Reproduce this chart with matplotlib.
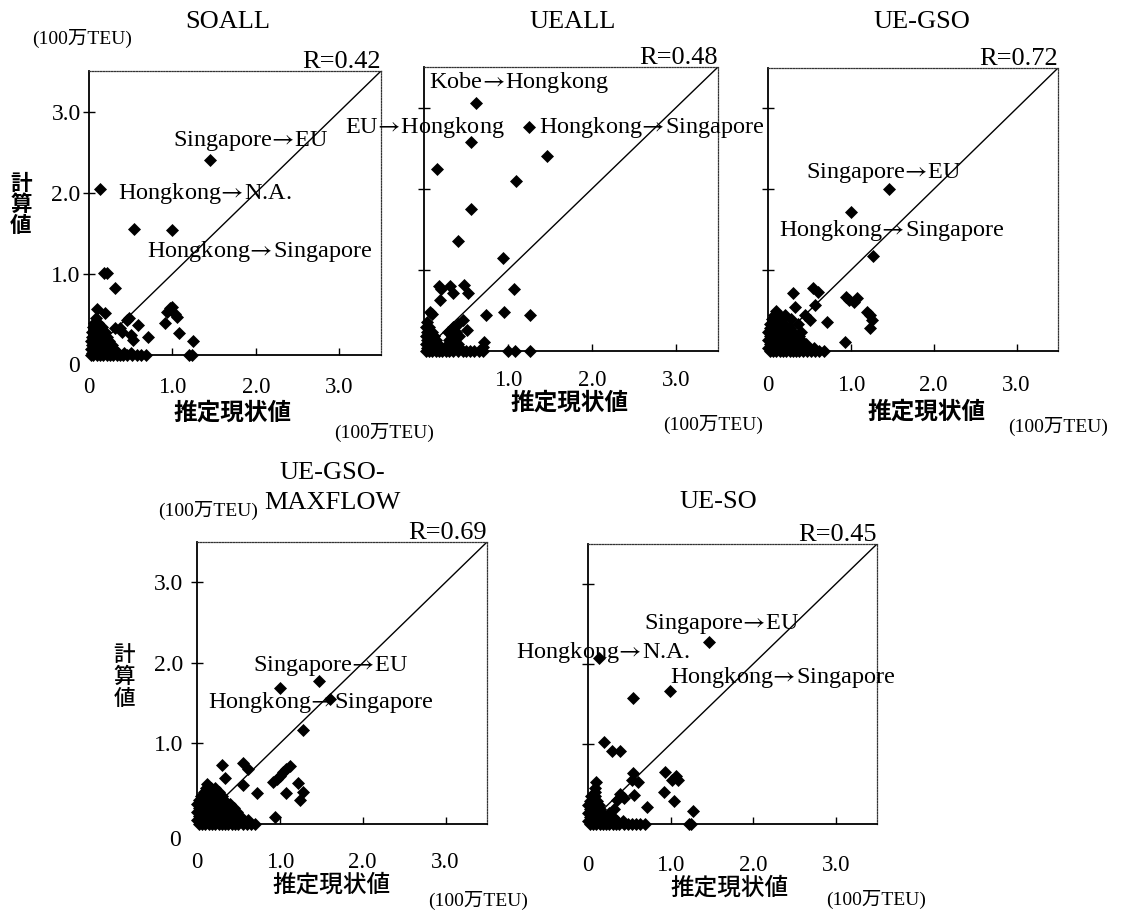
import matplotlib
matplotlib.use("Agg")
import matplotlib.pyplot as plt

plt.rcParams['font.family'] = ['Liberation Serif', 'Noto Sans CJK JP', 'DejaVu Sans']
plt.rcParams['mathtext.fontset'] = 'stix'

W, H = 1121, 911

# ---------------- data ----------------
titles = ["SOALL", "UEALL", "UE-GSO", "UE-GSO-\nMAXFLOW", "UE-SO"]
r_labels = ["R=0.42", "R=0.48", "R=0.72", "R=0.69", "R=0.45"]
tick_vals = [0, 1, 2, 3]
tick_text = ["0", "1.0", "2.0", "3.0"]
unit_label = "(100万TEU)"
x_label = "推定現状値"
y_label = "計\n算\n値"
ARROW = "$\\!{\\rightarrow}\\!$"

soall_x = [1.45, 0.13, 0.54, 0.99, 0.18, 0.22, 0.31, 0.09, 0.19, 0.48, 0.45, 0.59, 0.71, 0.91,
           0.93, 0.97, 0.99, 1.05, 1.03, 1.08, 1.25, 1.20, 1.24, 0.31, 0.37, 0.53, 0.50, 0.40,
           0.02, 0.05, 0.09, 0.13, 0.17, 0.21, 0.25, 0.29, 0.33, 0.37, 0.41, 0.46, 0.52, 0.57, 0.62, 0.68,
           0.04, 0.10, 0.16, 0.22, 0.28, 0.35, 0.42, 0.50,
           0.02, 0.07, 0.12, 0.18, 0.24, 0.30,
           0.04, 0.09, 0.14, 0.20, 0.27,
           0.02, 0.07, 0.12, 0.18, 0.24,
           0.04, 0.09, 0.15, 0.21,
           0.03, 0.08, 0.13, 0.19,
           0.05, 0.10, 0.15,
           0.06, 0.11,
           0.08]
soall_y = [2.40, 2.05, 1.55, 1.54, 1.01, 1.01, 0.82, 0.57, 0.52, 0.45, 0.43, 0.37, 0.22, 0.40,
           0.53, 0.58, 0.59, 0.47, 0.50, 0.27, 0.17, 0.00, 0.00, 0.33, 0.33, 0.18, 0.25, 0.28,
           0.00, 0.00, 0.00, 0.00, 0.00, 0.00, 0.00, 0.00, 0.00, 0.00, 0.00, 0.00, 0.00, 0.00, 0.00, 0.00,
           0.03, 0.03, 0.03, 0.03, 0.03, 0.03, 0.03, 0.03,
           0.07, 0.07, 0.07, 0.07, 0.07, 0.07,
           0.12, 0.12, 0.12, 0.12, 0.12,
           0.17, 0.17, 0.17, 0.17, 0.17,
           0.22, 0.22, 0.22, 0.22,
           0.28, 0.28, 0.28, 0.28,
           0.34, 0.34, 0.34,
           0.40, 0.40,
           0.46]

ueall_x = [0.62, 1.25, 0.56, 1.47, 0.15, 1.10, 0.56, 0.40, 0.94, 1.07, 0.18, 0.31, 0.48, 0.20,
           0.35, 0.52, 0.19, 0.74, 0.95, 1.26, 0.07, 0.10, 0.51, 0.47, 0.41, 0.34, 0.72, 0.70,
           1.00, 1.08, 1.26,
           0.02, 0.06, 0.10, 0.14, 0.18, 0.22, 0.26, 0.30, 0.35, 0.40, 0.46, 0.50, 0.55, 0.60, 0.65, 0.70,
           0.03, 0.08, 0.13, 0.19, 0.25, 0.31, 0.38,
           0.02, 0.07, 0.12, 0.17, 0.28, 0.34, 0.40,
           0.04, 0.09, 0.14, 0.30, 0.36,
           0.02, 0.07, 0.12, 0.33, 0.42,
           0.04, 0.09, 0.28, 0.38,
           0.02, 0.06,
           0.03]
ueall_y = [3.06, 2.76, 2.57, 2.40, 2.24, 2.09, 1.75, 1.36, 1.14, 0.77, 0.80, 0.80, 0.81, 0.76,
           0.72, 0.72, 0.63, 0.44, 0.48, 0.44, 0.48, 0.46, 0.26, 0.38, 0.33, 0.30, 0.11, 0.05,
           0.00, 0.00, 0.00,
           0.00, 0.00, 0.00, 0.00, 0.00, 0.00, 0.00, 0.00, 0.00, 0.00, 0.00, 0.00, 0.00, 0.00, 0.00, 0.00,
           0.04, 0.04, 0.04, 0.04, 0.04, 0.04, 0.04,
           0.09, 0.09, 0.09, 0.09, 0.09, 0.09, 0.09,
           0.14, 0.14, 0.14, 0.14, 0.14,
           0.19, 0.19, 0.19, 0.19, 0.19,
           0.24, 0.24, 0.24, 0.24,
           0.30, 0.30,
           0.36]

uegso_x = [1.46, 1.00, 1.27, 0.54, 0.60, 0.30, 0.57, 0.94, 0.98, 1.04, 1.07, 1.20, 1.23, 1.25,
           1.23, 0.71, 0.93, 0.51, 0.33, 0.45,
           0.02, 0.06, 0.10, 0.14, 0.18, 0.22, 0.26, 0.30, 0.34, 0.38, 0.42, 0.47, 0.52, 0.57, 0.62, 0.68,
           0.00, 0.04, 0.08, 0.12, 0.16, 0.20, 0.24, 0.28, 0.32, 0.37, 0.43, 0.50, 0.56,
           0.02, 0.06, 0.10, 0.14, 0.18, 0.22, 0.26, 0.30, 0.35, 0.40, 0.46,
           0.00, 0.04, 0.08, 0.12, 0.16, 0.20, 0.24, 0.29, 0.34, 0.40,
           0.02, 0.06, 0.10, 0.14, 0.18, 0.23, 0.28, 0.37,
           0.00, 0.04, 0.08, 0.12, 0.17, 0.22, 0.30, 0.40,
           0.02, 0.06, 0.10, 0.15, 0.21, 0.27,
           0.03, 0.08, 0.13, 0.19, 0.36,
           0.05, 0.10, 0.16, 0.28,
           0.07, 0.13, 0.21,
           0.10]
uegso_y = [2.00, 1.72, 1.17, 0.78, 0.73, 0.72, 0.57, 0.67, 0.63, 0.61, 0.65, 0.48, 0.44, 0.38,
           0.28, 0.36, 0.11, 0.38, 0.54, 0.45,
           0.00, 0.00, 0.00, 0.00, 0.00, 0.00, 0.00, 0.00, 0.00, 0.00, 0.00, 0.00, 0.00, 0.00, 0.00, 0.00,
           0.04, 0.04, 0.04, 0.04, 0.04, 0.04, 0.04, 0.04, 0.04, 0.04, 0.04, 0.04, 0.04,
           0.09, 0.09, 0.09, 0.09, 0.09, 0.09, 0.09, 0.09, 0.09, 0.09, 0.09,
           0.14, 0.14, 0.14, 0.14, 0.14, 0.14, 0.14, 0.14, 0.14, 0.14,
           0.19, 0.19, 0.19, 0.19, 0.19, 0.19, 0.19, 0.19,
           0.24, 0.24, 0.24, 0.24, 0.24, 0.24, 0.24, 0.24,
           0.29, 0.29, 0.29, 0.29, 0.29, 0.29,
           0.34, 0.34, 0.34, 0.34, 0.34,
           0.39, 0.39, 0.39, 0.39,
           0.44, 0.44, 0.44,
           0.49]

maxflow_x = [1.47, 1.00, 1.60, 1.28, 0.30, 0.55, 0.61, 0.55, 0.72, 0.92, 0.96, 1.00, 1.04, 1.08,
             1.12, 1.08, 1.22, 1.28, 1.24, 0.94, 0.12, 0.34,
             0.02, 0.06, 0.10, 0.14, 0.18, 0.22, 0.26, 0.30, 0.34, 0.38, 0.42, 0.46, 0.50, 0.55, 0.60, 0.65, 0.70,
             0.00, 0.04, 0.08, 0.12, 0.16, 0.20, 0.24, 0.28, 0.32, 0.36, 0.40, 0.45, 0.50, 0.56, 0.62,
             0.02, 0.06, 0.10, 0.14, 0.18, 0.22, 0.26, 0.30, 0.35, 0.40, 0.46, 0.52,
             0.00, 0.04, 0.08, 0.12, 0.16, 0.20, 0.24, 0.28, 0.33, 0.38, 0.48,
             0.02, 0.06, 0.10, 0.14, 0.18, 0.23, 0.28, 0.36, 0.45,
             0.00, 0.04, 0.08, 0.12, 0.16, 0.21, 0.30, 0.40,
             0.03, 0.07, 0.11, 0.15, 0.20, 0.26, 0.33,
             0.05, 0.09, 0.14, 0.19, 0.24, 0.30,
             0.08, 0.13, 0.18, 0.26,
             0.11, 0.17, 0.22]
maxflow_y = [1.77, 1.69, 1.55, 1.17, 0.73, 0.76, 0.68, 0.49, 0.38, 0.52, 0.56, 0.60, 0.64, 0.68,
             0.72, 0.38, 0.51, 0.40, 0.30, 0.09, 0.50, 0.57,
             0.00, 0.00, 0.00, 0.00, 0.00, 0.00, 0.00, 0.00, 0.00, 0.00, 0.00, 0.00, 0.00, 0.00, 0.00, 0.00, 0.00,
             0.05, 0.05, 0.05, 0.05, 0.05, 0.05, 0.05, 0.05, 0.05, 0.05, 0.05, 0.05, 0.05, 0.05, 0.05,
             0.10, 0.10, 0.10, 0.10, 0.10, 0.10, 0.10, 0.10, 0.10, 0.10, 0.10, 0.10,
             0.15, 0.15, 0.15, 0.15, 0.15, 0.15, 0.15, 0.15, 0.15, 0.15, 0.15,
             0.20, 0.20, 0.20, 0.20, 0.20, 0.20, 0.20, 0.20, 0.20,
             0.25, 0.25, 0.25, 0.25, 0.25, 0.25, 0.25, 0.25,
             0.30, 0.30, 0.30, 0.30, 0.30, 0.30, 0.30,
             0.35, 0.35, 0.35, 0.35, 0.35, 0.35,
             0.40, 0.40, 0.40, 0.40,
             0.45, 0.45, 0.45]

ueso_x = [1.47, 0.13, 0.99, 0.55, 0.19, 0.29, 0.39, 0.55, 0.53, 0.61, 0.93, 1.02, 1.09, 1.06,
          0.92, 1.04, 0.71, 1.27, 1.22, 1.25, 0.56, 0.39, 0.43, 0.35, 0.10, 0.09,
          0.02, 0.06, 0.10, 0.14, 0.18, 0.22, 0.26, 0.30, 0.34, 0.38, 0.43, 0.48, 0.53, 0.58, 0.63, 0.69,
          0.00, 0.04, 0.08, 0.12, 0.16, 0.20, 0.24, 0.29, 0.35, 0.42,
          0.02, 0.06, 0.10, 0.14, 0.18, 0.23, 0.30,
          0.00, 0.04, 0.08, 0.12, 0.17, 0.26,
          0.02, 0.06, 0.10, 0.15, 0.31,
          0.00, 0.04, 0.08, 0.13,
          0.02, 0.07, 0.11,
          0.04, 0.09,
          0.08]
ueso_y = [2.28, 2.07, 1.66, 1.57, 1.02, 0.91, 0.91, 0.64, 0.55, 0.52, 0.65, 0.55, 0.55, 0.60,
          0.40, 0.29, 0.21, 0.16, 0.00, 0.00, 0.36, 0.37, 0.33, 0.30, 0.52, 0.45,
          0.00, 0.00, 0.00, 0.00, 0.00, 0.00, 0.00, 0.00, 0.00, 0.00, 0.00, 0.00, 0.00, 0.00, 0.00, 0.00,
          0.04, 0.04, 0.04, 0.04, 0.04, 0.04, 0.04, 0.04, 0.04, 0.04,
          0.09, 0.09, 0.09, 0.09, 0.09, 0.09, 0.09,
          0.14, 0.14, 0.14, 0.14, 0.14, 0.14,
          0.19, 0.19, 0.19, 0.19, 0.19,
          0.24, 0.24, 0.24, 0.24,
          0.29, 0.29, 0.29,
          0.35, 0.35,
          0.40]

# annotations: (text, x, y) in data units
soall_notes = [("Singapore" + ARROW + "EU", 1.94, 2.64), ("Hongkong" + ARROW + "N.A.", 1.39, 1.99),
               ("Hongkong" + ARROW + "Singapore", 2.05, 1.27)]
ueall_notes = [("Kobe" + ARROW + "Hongkong", 1.13, 3.31), ("EU" + ARROW + "Hongkong", 0.01, 2.76),
               ("Hongkong" + ARROW + "Singapore", 2.71, 2.76)]
uegso_notes = [("Singapore" + ARROW + "EU", 1.40, 2.20), ("Hongkong" + ARROW + "Singapore", 1.50, 1.49)]
maxflow_notes = [("Singapore" + ARROW + "EU", 1.61, 1.96), ("Hongkong" + ARROW + "Singapore", 1.50, 1.51)]
ueso_notes = [("Singapore" + ARROW + "EU", 1.62, 2.50), ("Hongkong" + ARROW + "N.A.", 0.18, 2.14),
              ("Hongkong" + ARROW + "Singapore", 2.36, 1.83)]

# ---------------- layout (pixels) ----------------
panels = [
    dict(x=soall_x, y=soall_y, notes=soall_notes, box=(89, 71, 381, 355),
         title_xy=(228, 22), xlab_xy=(233, 413), unit_xy=(384, 432), xpad=15.8,
         ylabels=True, x0=True, ypad=2, ytop_unit=(82, 38), ylab_xy=(21, 204), zero_xy=(74, 366),
         jp_weight="bold"),
    dict(x=ueall_x, y=ueall_y, notes=ueall_notes, box=(424, 67, 718, 351),
         title_xy=(573, 22), xlab_xy=(570, 403), unit_xy=(713, 424), xpad=13.7,
         ylabels=False, x0=False, jp_weight="bold"),
    dict(x=uegso_x, y=uegso_y, notes=uegso_notes, box=(768, 68, 1058, 351),
         title_xy=(922, 22), xlab_xy=(927, 412), unit_xy=(1058, 426), xpad=17.3,
         ylabels=False, x0=True, jp_weight="bold"),
    dict(x=maxflow_x, y=maxflow_y, notes=maxflow_notes, box=(197, 542, 487, 824),
         title_xy=(332, 488), xlab_xy=(332, 885), unit_xy=(478, 900), xpad=20,
         ylabels=True, x0=True, ypad=6, ytop_unit=(208, 510), ylab_xy=(124, 677),
         zero_xy=(175, 841), jp_weight="medium"),
    dict(x=ueso_x, y=ueso_y, notes=ueso_notes, box=(588, 544, 877, 824),
         title_xy=(718, 502), xlab_xy=(730, 888), unit_xy=(876, 899), xpad=22.3,
         ylabels=False, x0=True, jp_weight="medium"),
]


def fx(px):
    return px / W


def fy(py):
    return 1 - py / H


fig = plt.figure(figsize=(W / 100, H / 100), dpi=100)
fig.patch.set_facecolor("white")

for i, p in enumerate(panels):
    l, t, r, b = p["box"]
    ax = fig.add_axes([fx(l), fy(b), (r - l) / W, (b - t) / H])
    ax.set_xlim(0, 3.5)
    ax.set_ylim(0, 3.5)
    ax.plot([0, 3.5], [0, 3.5], color="black", lw=1.0, zorder=2)
    ax.scatter(p["x"], p["y"], marker="D", s=44, color="black", linewidths=0,
               zorder=3, clip_on=False)

    for sp in ["left", "bottom"]:
        ax.spines[sp].set_linewidth(1.3)
        ax.spines[sp].set_color("black")
    for sp in ["top", "right"]:
        ax.spines[sp].set_linestyle((0, (1, 1.2)))
        ax.spines[sp].set_linewidth(0.9)
        ax.spines[sp].set_color("#333333")

    xl = list(tick_text)
    if not p["x0"]:
        xl[0] = ""
    ax.set_xticks(tick_vals)
    ax.set_xticklabels(xl)
    ax.set_yticks(tick_vals[1:])
    if p["ylabels"]:
        ax.set_yticklabels(tick_text[1:])
    else:
        ax.set_yticklabels([])
    ax.tick_params(axis="x", direction="in", length=5, width=1, pad=p["xpad"],
                   labelsize=16.5, bottom=True, top=False)
    ax.tick_params(axis="y", direction="inout", length=8, width=1, pad=p.get("ypad", 3),
                   labelsize=17, left=True, right=False)
    # hide the tick mark at x=0
    ax.xaxis.get_major_ticks()[0].tick1line.set_visible(False)

    ax.annotate(r_labels[i], xy=(1, 1), xycoords="axes fraction", xytext=(0, 2.5),
                textcoords="offset points", ha="right", va="baseline", fontsize=19)

    for txt, tx, ty in p["notes"]:
        ax.text(tx, ty, txt, ha="center", va="center", fontsize=17.5, zorder=4,
                clip_on=False)

    if p["ylabels"]:
        zx, zy = p["zero_xy"]
        fig.text(fx(zx), fy(zy), tick_text[0], ha="center", va="center", fontsize=17)
        ux, uy = p["ytop_unit"]
        fig.text(fx(ux), fy(uy), unit_label, ha="center", va="center", fontsize=14)
        lx, ly = p["ylab_xy"]
        fig.text(fx(lx), fy(ly), y_label, ha="center", va="center", fontsize=15.5,
                 family=["Noto Sans CJK JP"], weight=p["jp_weight"], linespacing=1.0)

    tx, ty = p["title_xy"]
    fig.text(fx(tx), fy(ty), titles[i], ha="center", va="center", fontsize=19,
             linespacing=1.45)
    lx, ly = p["xlab_xy"]
    fig.text(fx(lx), fy(ly), x_label, ha="center", va="center", fontsize=17,
             family=["Noto Sans CJK JP"], weight=p["jp_weight"])
    ux, uy = p["unit_xy"]
    fig.text(fx(ux), fy(uy), unit_label, ha="center", va="center", fontsize=14)

fig.savefig("out.png", dpi=100, facecolor="white")
